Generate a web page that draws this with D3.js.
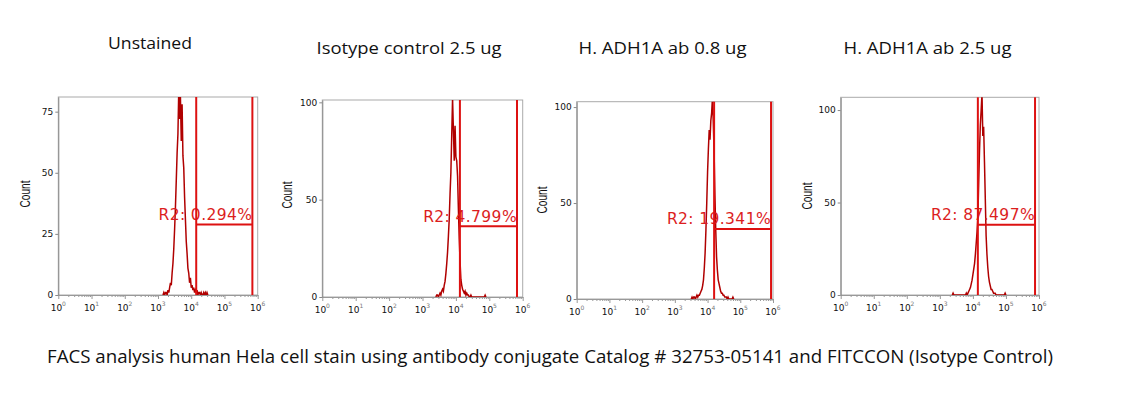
<!DOCTYPE html>
<html>
<head>
<meta charset="utf-8">
<script src="https://cdn.jsdelivr.net/npm/d3@7"></script>
<style>
  body { margin: 0; background: #fff; }
  svg { display: block; }
  .title { font-family: "Open Sans", sans-serif; fill: #111; }
  .tick-lbl { font-family: "DejaVu Sans", sans-serif; font-size: 9px; fill: #111; }
  .count { font-family: "Liberation Sans", sans-serif; font-size: 14px; fill: #111; }
  .gate-lbl { font-family: "DejaVu Sans", sans-serif; font-size: 15.5px; fill: #dc1e1e; letter-spacing: 0.4px; }
</style>
</head>
<body>
<svg id="chart" width="1139" height="393"></svg>
<script>
// ---- data ----
var titles = ["Unstained", "Isotype control 2.5 ug", "H. ADH1A ab 0.8 ug", "H. ADH1A ab 2.5 ug"];
var caption = "FACS analysis human Hela cell stain using antibody conjugate Catalog # 32753-05141 and FITCCON (Isotype Control)";
var gateLabels = ["R2: 0.294%", "R2: 4.799%", "R2: 19.341%", "R2: 87.497%"];
var gateLow = [4.15, 4.12, 4.20, 4.15];   // log10 of gate start
var gateHigh = [5.84, 5.83, 5.94, 5.88];  // log10 of gate end
var gateLevel = [28.8, 36.4, 36.5, 38];   // count level of gate bar
var yMax = [81, 101.2, 102.8, 106.9];
var yTicks = [[0, 25, 50, 75], [0, 50, 100], [0, 50, 100], [0, 50, 100]];
var xDecades = [0, 1, 2, 3, 4, 5, 6];
var binStep = 0.025;                       // histogram bin width, in decades
var histStart = [3.15, 3.40, 3.50, 3.375];  // log10 of first bin

var unstained = [
  0, 1, 0, 1, 1, 0, 2, 1, 3, 5,
  4, 9, 13, 19, 27, 36, 47, 58, 66, 84,
  72, 81, 63, 78, 57, 52, 40, 31, 22, 17,
  11, 9, 5, 7, 3, 4, 2, 3, 1, 2,
  1, 2, 0, 1, 1, 0, 1, 0, 0, 1,
  0, 1, 0, 1, 0
];
var isotype = [
  0, 1, 1, 0, 1, 2, 1, 3, 4, 3,
  6, 8, 12, 17, 23, 31, 40, 53, 64, 83,
  102, 86, 70, 88, 72, 70, 62, 45, 30, 18,
  9, 6, 4, 3, 2, 3, 1, 2, 1, 1,
  0, 0, 1, 0, 0, 0, 0, 0, 0, 0,
  0, 0, 0, 0, 0, 0, 0, 0, 0, 1, 0
];
var adh08 = [
  0, 1, 0, 1, 1, 0, 1, 2, 1, 2,
  2, 3, 4, 5, 7, 10, 16, 24, 36, 50,
  66, 78, 88, 83, 93, 97, 105, 92, 76, 54,
  36, 22, 15, 10, 8, 6, 4, 3, 3, 2,
  2, 1, 1, 1, 0, 1, 0, 0, 0, 0,
  0, 1, 0
];
var adh25 = [
  0, 1, 0, 0, 0, 0, 0, 0, 0, 0,
  0, 0, 0, 0, 0, 0, 0, 1, 0, 1,
  2, 3, 4, 6, 8, 11, 14, 17, 22, 28,
  34, 42, 60, 78, 92, 100, 109, 86, 91, 72,
  52, 32, 22, 15, 10, 7, 5, 3, 3, 2,
  1, 1, 1, 0, 0, 0, 0, 0, 0, 0,
  0, 0, 0, 0, 1, 0
];
var histograms = [unstained, isotype, adh08, adh25];

// ---- layout ----
var frames = [
  {left: 58.3, top: 97, right: 257.7, bottom: 295, tx: 150, ty: 49, tw: 84, cx: 25, cy: 194},
  {left: 322.3, top: 100, right: 522.7, bottom: 297, tx: 409, ty: 53.5, tw: 185, cx: 287, cy: 195},
  {left: 576.7, top: 101.7, right: 773, bottom: 299, tx: 662.5, ty: 54, tw: 168, cx: 542, cy: 200},
  {left: 840.7, top: 97.3, right: 1039, bottom: 295, tx: 927.5, ty: 54, tw: 168, cx: 807, cy: 196}
];

var svg = d3.select("#chart");

svg.append("text")
  .attr("class", "title")
  .attr("x", 550)
  .attr("y", 363.3)
  .attr("text-anchor", "middle")
  .attr("font-size", 19)
  .attr("textLength", 1006)
  .attr("lengthAdjust", "spacingAndGlyphs")
  .text(caption);

frames.forEach(function(f, i) {
  var x = d3.scaleLog().domain([1, 1e6]).range([f.left, f.right]);
  var y = d3.scaleLinear().domain([0, yMax[i]]).range([f.bottom, f.top]);
  var g = svg.append("g");

  g.append("text")
    .attr("class", "title")
    .attr("x", f.tx)
    .attr("y", f.ty)
    .attr("text-anchor", "middle")
    .attr("font-size", 17)
    .attr("textLength", f.tw)
    .attr("lengthAdjust", "spacingAndGlyphs")
    .text(titles[i]);

  // frame
  g.append("rect")
    .attr("x", f.left).attr("y", f.top)
    .attr("width", f.right - f.left).attr("height", f.bottom - f.top)
    .attr("fill", "none")
    .attr("stroke", "#aaa");

  // x axis: minor + major ticks
  var minor = [];
  xDecades.slice(0, -1).forEach(function(d) {
    for (var k = 2; k <= 9; k++) minor.push(k * Math.pow(10, d));
  });
  g.append("g")
    .attr("transform", "translate(0," + f.bottom + ")")
    .call(d3.axisBottom(x).tickValues(minor).tickSize(2).tickSizeOuter(0).tickFormat(""))
    .call(function(a) { a.selectAll("line").attr("stroke", "#999"); a.select(".domain").attr("stroke", "#999"); });
  var xa = g.append("g")
    .attr("transform", "translate(0," + f.bottom + ")")
    .call(d3.axisBottom(x).tickValues(xDecades.map(function(d) { return Math.pow(10, d); }))
      .tickSize(4).tickSizeOuter(0).tickFormat(""));
  xa.select(".domain").attr("stroke", "#999");
  xa.selectAll("line").attr("stroke", "#999");

  var xl = g.selectAll(".xl")
    .data(xDecades)
    .enter().append("text")
    .attr("class", "tick-lbl")
    .attr("x", function(d) { return x(Math.pow(10, d)); })
    .attr("y", f.bottom + 15.5)
    .attr("text-anchor", "middle");
  xl.append("tspan").text("10");
  xl.append("tspan")
    .attr("dy", -5)
    .attr("font-size", 6)
    .attr("fill", "#777")
    .text(function(d) { return d; });

  // y axis
  var ya = g.append("g")
    .attr("transform", "translate(" + f.left + ",0)")
    .call(d3.axisLeft(y).tickValues(yTicks[i]).tickSize(3).tickSizeOuter(0));
  ya.select(".domain").attr("stroke", "#888");
  ya.selectAll("line").attr("stroke", "#888");
  ya.selectAll("text")
    .attr("class", "tick-lbl")
    .attr("font-family", null).attr("font-size", null)
    .attr("x", -5);

  g.append("text")
    .attr("class", "count")
    .attr("transform", "translate(" + f.cx + "," + f.cy + ") rotate(-90)")
    .attr("text-anchor", "middle")
    .attr("dy", "0.35em")
    .attr("textLength", 27)
    .attr("lengthAdjust", "spacingAndGlyphs")
    .text("Count");

  // histogram
  var clipId = "clip" + i;
  svg.append("clipPath").attr("id", clipId)
    .append("rect")
    .attr("x", f.left).attr("y", f.top)
    .attr("width", f.right - f.left).attr("height", f.bottom - f.top);

  var pts = histograms[i].map(function(c, k) {
    return {e: histStart[i] + k * binStep, c: c};
  });
  var line = d3.line()
    .x(function(d) { return x(Math.pow(10, d.e)); })
    .y(function(d) { return y(d.c); });
  g.append("path")
    .datum(pts)
    .attr("clip-path", "url(#" + clipId + ")")
    .attr("d", line)
    .attr("fill", "none")
    .attr("stroke", "#b00000")
    .attr("stroke-width", 1.5);

  // gate
  var gx0 = x(Math.pow(10, gateLow[i]));
  var gx1 = x(Math.pow(10, gateHigh[i]));
  var gy = y(gateLevel[i]);

  g.append("text")
    .attr("class", "gate-lbl")
    .attr("x", gx1)
    .attr("y", gy - 4.5)
    .attr("text-anchor", "end")
    .text(gateLabels[i]);

  [gx0, gx1].forEach(function(gx) {
    g.append("line")
      .attr("x1", gx).attr("x2", gx)
      .attr("y1", f.top).attr("y2", f.bottom)
      .attr("stroke", "#dd1111")
      .attr("stroke-width", 2);
  });
  g.append("line")
    .attr("x1", gx0).attr("x2", gx1)
    .attr("y1", gy).attr("y2", gy)
    .attr("stroke", "#dd1111")
    .attr("stroke-width", 2);
});
</script>
</body>
</html>
